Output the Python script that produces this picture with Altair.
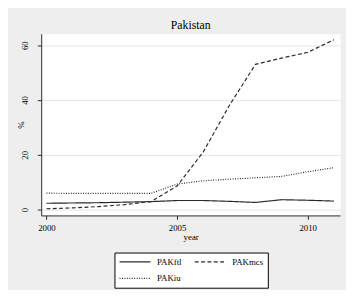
import altair as alt
import pandas as pd

years = list(range(2000, 2012))
pak_ftl = [2.3, 2.4, 2.5, 2.7, 2.9, 3.3, 3.3, 3.0, 2.6, 3.6, 3.4, 3.1]
pak_mcs = [0.3, 0.6, 1.1, 1.8, 2.9, 8.6, 21.0, 38.0, 53.0, 55.3, 57.4, 62.0]
pak_iu = [6.0, 5.9, 5.9, 5.9, 5.9, 9.3, 10.5, 11.1, 11.6, 12.1, 13.8, 15.3]
series_names = ["PAKftl", "PAKmcs", "PAKiu"]
x_ticks = [2000, 2005, 2010]
y_ticks = [0, 20, 40, 60]

rows = []
for name, vals in zip(series_names, [pak_ftl, pak_mcs, pak_iu]):
    for yr, v in zip(years, vals):
        rows.append({"year": yr, "value": v, "series": name})
df = pd.DataFrame(rows)

serif = "Liberation Serif"
ink = "#2a2a2a"

chart = alt.Chart(df).mark_line(color=ink, strokeWidth=1.2).encode(
    x=alt.X(
        "year:Q",
        scale=alt.Scale(domain=[1999.8, 2011.24], nice=False, zero=False),
        axis=alt.Axis(
            values=x_ticks, format="d", title="year", grid=False, tickSize=4,
            labelBaseline="alphabetic", labelPadding=11.3, labelFlush=False,
            titleX=153, titleY=24.4, titleBaseline="alphabetic", titleAlign="center",
        ),
    ),
    y=alt.Y(
        "value:Q",
        scale=alt.Scale(domain=[-2.14, 64.18], nice=False, zero=False),
        axis=alt.Axis(
            values=y_ticks, title="%", grid=True, tickSize=4,
            labelAngle=270, labelAlign="center", labelBaseline="alphabetic",
            labelPadding=9.7,
            titleAngle=270, titleX=-18, titleY=93, titleAlign="center",
            titleBaseline="alphabetic",
        ),
    ),
    strokeDash=alt.StrokeDash(
        "series:N",
        sort=series_names,
        scale=alt.Scale(domain=series_names, range=[[1, 0], [4, 2.5], [1, 1.5]]),
        legend=alt.Legend(
            title=None, orient="none", legendX=75, legendY=224, columns=2,
            direction="horizontal", values=series_names,
            symbolType="stroke", symbolSize=1000, symbolStrokeWidth=1.2,
            symbolStrokeColor=ink, labelFont=serif, labelFontSize=9,
            labelColor="black", labelOffset=6, columnPadding=12, rowPadding=7,
            clipHeight=10, padding=4.5, strokeColor="black", fillColor="white",
            cornerRadius=0,
        ),
    ),
).properties(
    width=306,
    height=186,
    title=alt.TitleParams(
        "Pakistan", font=serif, fontSize=12, fontWeight="normal", color="black",
        anchor="middle", baseline="alphabetic", offset=4, dy=11,
    ),
    autosize=alt.AutoSizeParams(type="none"),
    padding={"left": 34, "top": 23, "right": 6, "bottom": 73},
    background="#eeeeee",
).configure_axis(
    labelFont=serif, labelFontSize=9, labelColor="black",
    titleFont=serif, titleFontSize=9, titleColor="black", titleFontWeight="normal",
    domainColor=ink, tickColor=ink, domainWidth=1, tickWidth=1,
    gridColor="#e4e4e4", gridWidth=1,
).configure_view(
    fill="white", strokeOpacity=0,
)

chart.save("out.html", embed_options={"renderer": "svg", "actions": False})
